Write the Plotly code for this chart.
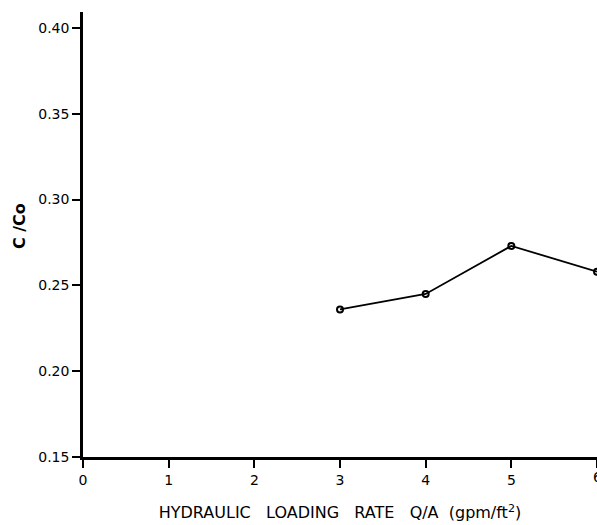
import plotly.graph_objects as go

loading_rate = [3, 4, 5, 6]
c_over_co = [0.236, 0.245, 0.273, 0.258]
x_ticks = [0, 1, 2, 3, 4, 5, 6]
x_tick_text = ["0", "1", "2", "3", "4", "5", "6"]
y_ticks = [0.15, 0.20, 0.25, 0.30, 0.35, 0.40]
y_tick_text = ["0.15", "0.20", "0.25", "0.30", "0.35", "0.40"]

font = "DejaVu Sans, Verdana, sans-serif"

fig = go.Figure()
fig.add_trace(go.Scatter(
    x=loading_rate, y=c_over_co, mode="lines+markers",
    line=dict(color="black", width=1.8),
    marker=dict(symbol="circle-open", size=6, color="black", line=dict(width=2)),
    cliponaxis=True, showlegend=False,
))

fig.update_layout(
    width=597, height=525,
    margin=dict(l=83, r=0, t=12, b=68),
    plot_bgcolor="white", paper_bgcolor="white",
    font=dict(family=font, size=14, color="black"),
)
fig.update_xaxes(
    range=[0, 6], tickvals=x_ticks, ticktext=x_tick_text,
    showline=True, linecolor="black", linewidth=2.5,
    ticks="outside", ticklen=8, tickwidth=2, tickcolor="black",
    showgrid=False, zeroline=False, automargin=False,
    tickfont=dict(size=14, family=font),
    title=dict(text="HYDRAULIC   LOADING   RATE   Q/A  (gpm/ft<sup>2</sup>)",
               font=dict(size=16, family=font), standoff=21),
)
fig.update_yaxes(
    range=[0.15, 0.4093], tickvals=y_ticks, ticktext=y_tick_text,
    showline=True, linecolor="black", linewidth=2.5,
    ticks="outside", ticklen=8, tickwidth=2, tickcolor="black",
    showgrid=False, zeroline=False, automargin=False,
    tickfont=dict(size=14, family=font),
)
# y-axis title placed to match the reference
fig.add_annotation(
    text="<b>C /Co</b>", textangle=-90, showarrow=False,
    xref="paper", yref="paper", x=-0.1245, y=0.519,
    xanchor="center", yanchor="middle",
    font=dict(size=16, family=font),
)
# last x tick label (cut by the right edge in the reference)
fig.add_annotation(
    text=x_tick_text[-1], showarrow=False,
    xref="x", yref="paper", x=x_ticks[-1], y=0,
    xanchor="center", yanchor="top", yshift=-10,
    font=dict(size=14, family=font),
)

fig.write_html(
    "out.html",
    config={"displayModeBar": False},
    post_script="document.body.style.margin='0';document.body.style.overflow='hidden';",
)
